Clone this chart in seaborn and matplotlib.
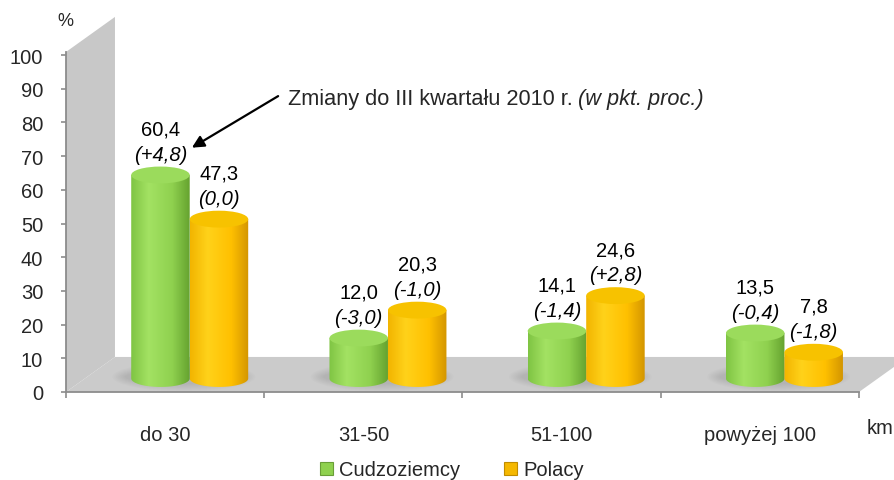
import numpy as np
import pandas as pd
import matplotlib
matplotlib.use("Agg")
import matplotlib.pyplot as plt
import seaborn as sns
from matplotlib.patches import Polygon, Ellipse, Patch
from matplotlib.colors import LinearSegmentedColormap

# ---------------- data ----------------
categories = ["do 30", "31-50", "51-100", "powyżej 100"]
series = ["Cudzoziemcy", "Polacy"]
cudzoziemcy = [60.4, 12.0, 14.1, 13.5]
polacy = [47.3, 20.3, 24.6, 7.8]
zmiany_cudz = ["(+4,8)", "(-3,0)", "(-1,4)", "(-0,4)"]
zmiany_pol = ["(0,0)", "(-1,0)", "(+2,8)", "(-1,8)"]
yticks = list(range(0, 101, 10))

df = pd.DataFrame({
    "kategoria": categories * 2,
    "grupa": [series[0]] * len(categories) + [series[1]] * len(categories),
    "wartosc": cudzoziemcy + polacy,
})

sns.set_theme(style="white")
plt.rcParams["font.family"] = ["Liberation Sans", "DejaVu Sans"]
FS = 14.5

green = "#8fd14f"
yellow = "#ffc000"

fig = plt.figure(figsize=(8.95, 4.81), dpi=100)
ax = fig.add_axes([66 / 895, 88 / 481, 793 / 895, 337 / 481])

sns.barplot(data=df, x="kategoria", y="wartosc", hue="grupa", order=categories,
            hue_order=series, palette=[green, yellow], width=0.59, saturation=1,
            legend=False, ax=ax, zorder=3)

# 3D frame: depth vector in data units
DX, DY = 0.247, 10.4
wall = Polygon([(-0.5, 0), (-0.5, 100.9), (-0.5 + DX, 100.9 + DY), (-0.5 + DX, DY)],
               closed=True, facecolor="#c8c8c8", edgecolor="none", zorder=0, clip_on=False)
floor = Polygon([(-0.5, 0), (-0.5 + DX, DY), (3.5 + DX, DY), (3.5, 0)],
                closed=True, facecolor="#cbcbcb", edgecolor="none", zorder=0.5, clip_on=False)
ax.add_patch(wall)
ax.add_patch(floor)

# cylinders
SX, SY = 0.124, 4.0   # mid-depth offset
B = 2.5               # ellipse half-height (data units)
cmaps = [
    LinearSegmentedColormap.from_list("g", [(0, "#7fc443"), (0.3, "#a3e263"), (0.7, "#8fd14f"), (1, "#65a22f")]),
    LinearSegmentedColormap.from_list("y", [(0, "#f2b400"), (0.3, "#ffd21a"), (0.7, "#ffc000"), (1, "#d39500")]),
]
tops = ["#9bdb5c", "#f7c200"]
changes = [zmiany_cudz, zmiany_pol]
values = [cudzoziemcy, polacy]

for si, cont in enumerate(ax.containers):
    for ci, p in enumerate(cont):
        x0 = p.get_x() + SX
        w = p.get_width()
        h = p.get_height()
        p.set_visible(False)
        cx = x0 + w / 2
        ybot = SY
        ytop = SY + h
        # soft shadow on the floor
        if si == 0:
            for k in range(8):
                sh = Ellipse((cx + w * 0.4, ybot + 0.5), width=2 * w * (1.22 - k * 0.03),
                             height=8.5 - k * 0.6, facecolor="#7a7a7a", alpha=0.035,
                             edgecolor="none", zorder=1)
                ax.add_patch(sh)
        t = np.linspace(np.pi, 2 * np.pi, 60)
        arc = np.column_stack([cx + (w / 2) * np.cos(t), ybot + B * np.sin(t)])
        pts = np.vstack([[x0, ytop], arc, [x0 + w, ytop]])
        outline = Polygon(pts, closed=True, transform=ax.transData, facecolor="none", edgecolor="none")
        grad = np.linspace(0, 1, 256).reshape(1, -1)
        im = ax.imshow(grad, cmap=cmaps[si], extent=(x0, x0 + w, ybot - B, ytop),
                       aspect="auto", zorder=3 + si, interpolation="bilinear")
        im.set_clip_path(outline)
        top = Ellipse((cx, ytop), width=w, height=2 * B, facecolor=tops[si],
                      edgecolor="none", zorder=3.5 + si)
        ax.add_patch(top)
        # labels
        ax.annotate(changes[si][ci], xy=(cx, ytop + B), xytext=(0, 5), textcoords="offset points",
                    ha="center", va="baseline", fontsize=FS, style="italic", color="black", zorder=6)
        ax.annotate(f"{values[si][ci]:.1f}".replace(".", ","), xy=(cx, ytop + B), xytext=(0, 23),
                    textcoords="offset points", ha="center", va="baseline", fontsize=FS,
                    color="black", zorder=6)

ax.set_xlim(-0.5, 3.5)
ax.set_ylim(0, 100)
ax.patch.set_alpha(0)

# axes styling
for s in ["top", "right"]:
    ax.spines[s].set_visible(False)
ax.spines["left"].set_color("#8c8c8c")
ax.spines["bottom"].set_color("#8c8c8c")
ax.spines["left"].set_linewidth(1.3)
ax.spines["bottom"].set_linewidth(1.3)
ax.spines["left"].set_bounds(0, 100.9)
ax.set_yticks(yticks)
ax.set_yticklabels([str(v) for v in yticks], fontsize=FS)
ax.tick_params(axis="y", length=3.5, width=1.2, color="#8c8c8c", pad=13, left=True)
ax.set_xticks(range(len(categories)))
ax.set_xticklabels(categories, fontsize=FS)
ax.set_xticks([-0.5, 0.5, 1.5, 2.5, 3.5], minor=True)
ax.tick_params(axis="x", which="major", length=0, pad=24)
ax.tick_params(axis="x", which="minor", length=4, width=1.2, color="#8c8c8c", bottom=True)
ax.set_xlabel("")
ax.set_ylabel("")

# annotation: text + arrow
FA = 15.7
t1 = ax.text(0.618, 85.5, "Zmiany do III kwartału 2010 r. ", fontsize=FA, ha="left", va="baseline")
ax.annotate("(w pkt. proc.)", xy=(1, 0), xycoords=t1, fontsize=FA, style="italic",
            ha="left", va="bottom")
ax.annotate("", xy=(0.135, 72.5), xytext=(0.57, 87.8), textcoords="data",
            arrowprops=dict(arrowstyle="-|>", color="black", lw=1.6, mutation_scale=18,
                            shrinkA=0, shrinkB=0), zorder=7)

# axis unit labels
fig.text(65 / 895, 1 - 22 / 481, "%", ha="center", va="center", fontsize=13)
fig.text(894 / 895, 1 - 428 / 481, "km", ha="right", va="center", fontsize=FS)

# legend
handles = [Patch(facecolor=green, edgecolor="#6a9e38", linewidth=0.8),
           Patch(facecolor="#f5b800", edgecolor="#c08c00", linewidth=0.8)]
fig.legend(handles, series, loc="center", bbox_to_anchor=(452 / 895, 1 - 471 / 481), ncol=2,
           frameon=False, fontsize=FS, handlelength=0.65, handleheight=0.65, handletextpad=0.3,
           columnspacing=2.2, borderpad=0)

fig.savefig("out.png", dpi=100)
